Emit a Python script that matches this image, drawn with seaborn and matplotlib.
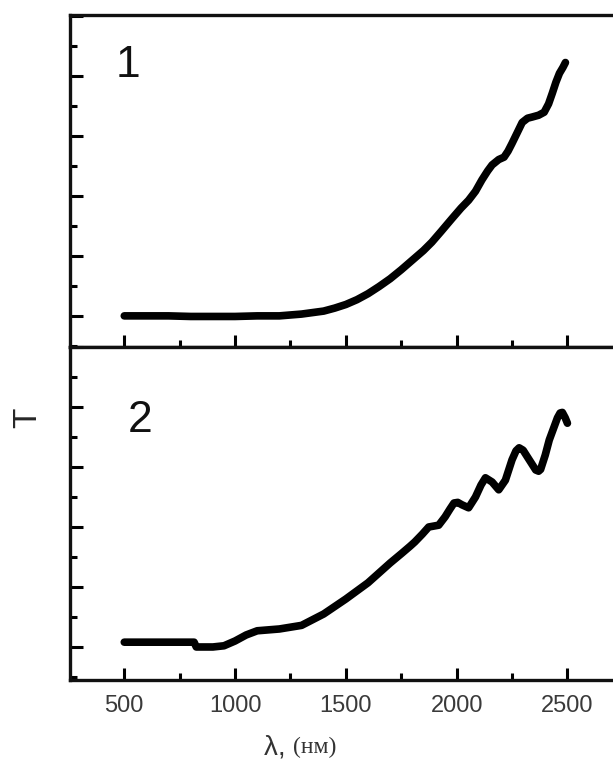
import numpy as np
import pandas as pd
import seaborn as sns
import matplotlib.pyplot as plt
from matplotlib.ticker import MultipleLocator, NullFormatter

# curve 1 (top panel)
lam1 = [500, 600, 700, 800, 900, 1000, 1100, 1200, 1300, 1400, 1450, 1500, 1550, 1600,
        1650, 1700, 1750, 1800, 1850, 1888, 1930, 1978, 2020, 2054, 2085, 2114, 2140,
        2160, 2190, 2214, 2232, 2250, 2275, 2296, 2320, 2341, 2370, 2395, 2415, 2432,
        2448, 2464, 2480, 2491]
T1 = [0.0, 0.0, 0.0, -0.01, -0.01, -0.01, 0.0, 0.0, 0.03, 0.08, 0.13, 0.19, 0.27, 0.37,
      0.49, 0.62, 0.77, 0.93, 1.09, 1.23, 1.41, 1.62, 1.8, 1.93, 2.08, 2.27, 2.42,
      2.52, 2.61, 2.65, 2.75, 2.88, 3.07, 3.23, 3.3, 3.32, 3.35, 3.4, 3.54, 3.72,
      3.9, 4.05, 4.15, 4.23]

# curve 2 (bottom panel)
lam2 = [500, 600, 700, 815, 825, 900, 950, 1000, 1050, 1100, 1200, 1300, 1400, 1500,
        1600, 1700, 1752, 1790, 1811, 1845, 1874, 1919, 1948, 1970, 1988, 2005, 2024,
        2054, 2085, 2110, 2130, 2160, 2190, 2220, 2250, 2268, 2282, 2300, 2319, 2357,
        2370, 2379, 2400, 2418, 2455, 2467, 2477, 2490, 2500]
T2 = [0.08, 0.08, 0.08, 0.08, 0.0, 0.0, 0.02, 0.1, 0.2, 0.27, 0.3, 0.36, 0.55, 0.8,
      1.07, 1.4, 1.56, 1.68, 1.75, 1.88, 2.0, 2.03, 2.17, 2.3, 2.4, 2.41, 2.37,
      2.32, 2.5, 2.7, 2.82, 2.75, 2.62, 2.78, 3.12, 3.27, 3.32, 3.28, 3.17, 2.95,
      2.93, 2.96, 3.2, 3.45, 3.82, 3.9, 3.91, 3.82, 3.73]

xticks = [500, 1000, 1500, 2000, 2500]

sns.set_style('ticks')
plt.rcParams['font.family'] = ['Liberation Sans', 'DejaVu Sans']

fig = plt.figure(figsize=(6.13, 7.6), dpi=100)
ax1 = fig.add_axes([0.1142, 0.5434, 0.9, 0.4366])
ax2 = fig.add_axes([0.1142, 0.1053, 0.9, 0.4381])

sns.lineplot(x=lam1, y=T1, ax=ax1, color='black', lw=5.5, sort=False,
             estimator=None, solid_capstyle='round', solid_joinstyle='round')
sns.lineplot(x=lam2, y=T2, ax=ax2, color='black', lw=5.5, sort=False,
             estimator=None, solid_capstyle='round', solid_joinstyle='round')

ax1.set_ylim(-0.52, 5.02)
ax2.set_ylim(-0.55, 5.0)

for ax in (ax1, ax2):
    ax.set_xlim(255, 2745)
    ax.set_xticks(xticks)
    ax.xaxis.set_minor_locator(MultipleLocator(250))
    ax.yaxis.set_major_locator(MultipleLocator(1))
    ax.yaxis.set_minor_locator(MultipleLocator(0.5))
    ax.yaxis.set_major_formatter(NullFormatter())
    ax.tick_params(which='both', direction='in', top=False, right=False, width=2.2,
                   color='black')
    ax.tick_params(which='major', length=9)
    ax.tick_params(which='minor', length=5)
    for s in ax.spines.values():
        s.set_linewidth(2.4)
        s.set_color('#111111')
    ax.set_xlabel('')
    ax.set_ylabel('')

ax1.xaxis.set_major_formatter(NullFormatter())
ax2.tick_params(axis='x', labelsize=17, labelcolor='#3a3a3a', pad=11)

ax1.text(0.105, 0.849, '1', transform=ax1.transAxes, fontsize=32, ha='center',
         va='center', color='#111111')
ax2.text(0.127, 0.778, '2', transform=ax2.transAxes, fontsize=32, ha='center',
         va='center', color='#111111')

fig.text(0.045, 0.45, 'T', rotation=90, fontsize=24, ha='center', va='center')
fig.text(0.478, 0.017, 'λ, ', fontsize=20, ha='right', va='center', color='#333333')
fig.text(0.478, 0.017, '(нм)', fontsize=17, ha='left', va='center', color='#333333',
         family=['Liberation Serif', 'DejaVu Serif'])

fig.savefig('out.png', dpi=100)
